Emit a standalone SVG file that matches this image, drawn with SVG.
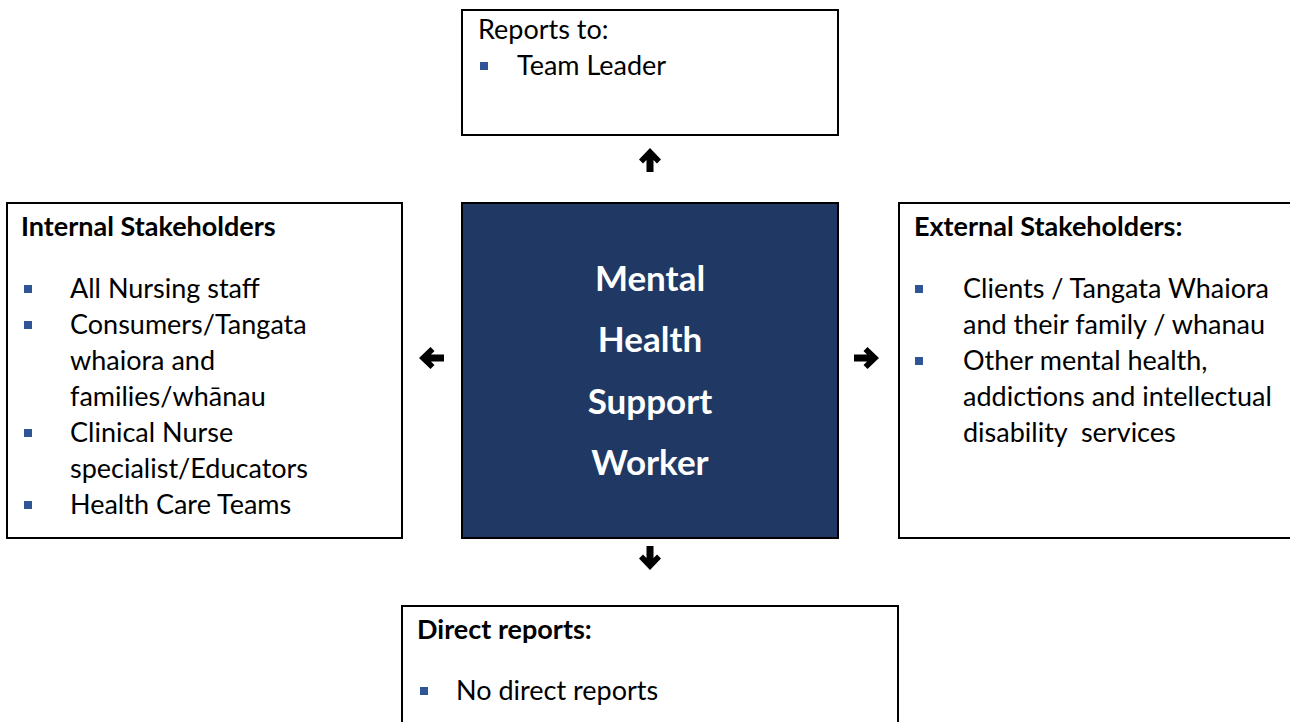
<svg xmlns="http://www.w3.org/2000/svg" width="1290" height="722" viewBox="0 0 1290 722">
<style>
.box{fill:#fff;stroke:#000;stroke-width:2}
.core{fill:#203864;stroke:#000;stroke-width:2}
.t{font-family:Lato,"Liberation Sans",sans-serif;font-size:27px;fill:#000}
.h{font-family:Lato,"Liberation Sans",sans-serif;font-size:27px;font-weight:bold;fill:#000}
.c{font-family:Lato,"Liberation Sans",sans-serif;font-size:35px;font-weight:bold;fill:#fff;text-anchor:middle}
.b{fill:#2F5597}
.arr{fill:#000}
</style>
<rect width="1290" height="722" fill="#fff"/>
<g id="reports-to">
<rect class="box" x="462" y="10" width="376" height="125"/>
<text class="t" x="478" y="39">Reports to:</text>
<rect class="b" x="480" y="62" width="8" height="8"/>
<text class="t" x="517" y="75">Team Leader</text>
</g>
<g id="internal">
<rect class="box" x="7" y="203" width="395" height="335"/>
<text class="h" x="21" y="236">Internal Stakeholders</text>
<rect class="b" x="24" y="285" width="8" height="8"/>
<text class="t" x="70" y="298">All Nursing staff</text>
<rect class="b" x="24" y="321" width="8" height="8"/>
<text class="t" x="70" y="334">Consumers/Tangata</text>
<text class="t" x="70" y="370">whaiora and</text>
<text class="t" x="70" y="406">families/whānau</text>
<rect class="b" x="24" y="429" width="8" height="8"/>
<text class="t" x="70" y="442">Clinical Nurse</text>
<text class="t" x="70" y="478">specialist/Educators</text>
<rect class="b" x="24" y="501" width="8" height="8"/>
<text class="t" x="70" y="514">Health Care Teams</text>
</g>
<g id="core">
<rect class="core" x="462" y="203" width="376" height="335"/>
<text class="c" x="650" y="291">Mental</text>
<text class="c" x="650" y="352">Health</text>
<text class="c" x="650" y="414">Support</text>
<text class="c" x="650" y="475">Worker</text>
</g>
<g id="external">
<rect class="box" x="899" y="203" width="400" height="335"/>
<text class="h" x="914" y="236">External Stakeholders:</text>
<rect class="b" x="915" y="285" width="8" height="8"/>
<text class="t" x="963" y="298">Clients / Tangata Whaiora</text>
<text class="t" x="963" y="334">and their family / whanau</text>
<rect class="b" x="915" y="357" width="8" height="8"/>
<text class="t" x="963" y="370">Other mental health,</text>
<text class="t" x="963" y="406">addictions and intellectual</text>
<text class="t" x="963" y="442" xml:space="preserve">disability  services</text>
</g>
<g id="direct-reports">
<rect class="box" x="402" y="606" width="496" height="130"/>
<text class="h" x="417" y="639">Direct reports:</text>
<rect class="b" x="420" y="687" width="8" height="8"/>
<text class="t" x="456" y="700">No direct reports</text>
</g>
<g id="connectors">
<path class="arr" d="M650 148 L661 159.5 L657 163.5 L653.5 160 L653.5 172 L646.5 172 L646.5 160 L643 163.5 L639 159.5 Z"/>
<path class="arr" d="M650 570 L661 558.5 L657 554.5 L653.5 558 L653.5 546 L646.5 546 L646.5 558 L643 554.5 L639 558.5 Z"/>
<path class="arr" d="M419 358 L430.5 347 L434.5 351 L431 354.5 L444 354.5 L444 361.5 L431 361.5 L434.5 365 L430.5 369 Z"/>
<path class="arr" d="M879 358 L867.5 347 L863.5 351 L867 354.5 L854 354.5 L854 361.5 L867 361.5 L863.5 365 L867.5 369 Z"/>
</g>
</svg>
